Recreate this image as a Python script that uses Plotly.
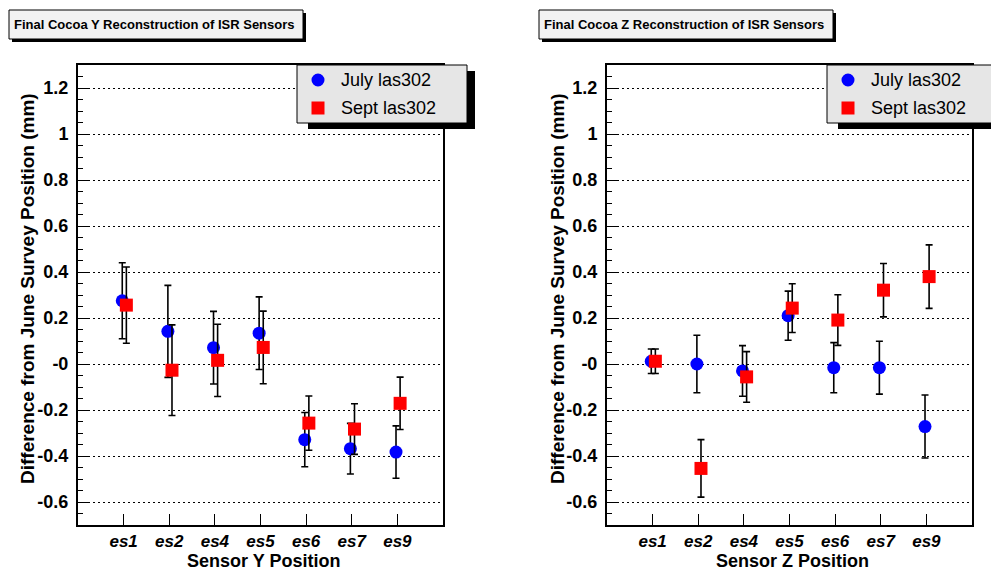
import plotly.graph_objects as go

W, H = 991, 571

categories = ["es1", "es2", "es4", "es5", "es6", "es7", "es9"]

july_y = [0.275, 0.142, 0.071, 0.134, -0.329, -0.368, -0.383]
july_y_err = [0.165, 0.200, 0.158, 0.158, 0.118, 0.110, 0.114]
sept_y = [0.256, -0.027, 0.016, 0.072, -0.257, -0.283, -0.171]
sept_y_err = [0.166, 0.197, 0.157, 0.158, 0.118, 0.110, 0.114]

july_z = [0.012, 0.000, -0.030, 0.210, -0.016, -0.016, -0.272]
july_z_err = [0.053, 0.125, 0.110, 0.107, 0.109, 0.115, 0.137]
sept_z = [0.012, -0.454, -0.056, 0.243, 0.191, 0.321, 0.380]
sept_z_err = [0.053, 0.125, 0.110, 0.106, 0.110, 0.116, 0.138]

ytick_vals = [-0.6, -0.4, -0.2, 0.0, 0.2, 0.4, 0.6, 0.8, 1.0, 1.2]
ytick_text = ["-0.6", "-0.4", "-0.2", "-0", "0.2", "0.4", "0.6", "0.8", "1", "1.2"]

series_labels = ["July las302", "Sept las302"]
panel_titles = ["Final Cocoa Y Reconstruction of ISR Sensors",
                "Final Cocoa Z Reconstruction of ISR Sensors"]
x_titles = ["Sensor Y Position", "Sensor Z Position"]
y_title = "Difference from June Survey Position (mm)"

FONT = "Liberation Sans, Arial, Helvetica, sans-serif"


def X(px):
    return px / W


def Y(py):
    return 1 - py / H


fig = go.Figure()

idx = list(range(len(categories)))
off_blue, off_red = -0.03, 0.06

panels = [
    (july_y, july_y_err, sept_y, sept_y_err, "x", "y"),
    (july_z, july_z_err, sept_z, sept_z_err, "x2", "y2"),
]
for (jv, je, sv, se, xa, ya) in panels:
    fig.add_trace(go.Scatter(
        x=[i + off_blue for i in idx], y=jv, mode="markers", xaxis=xa, yaxis=ya,
        marker=dict(symbol="circle", size=13, color="#0000ff", line=dict(width=0)),
        error_y=dict(type="data", array=je, color="black", thickness=1.6, width=3.5),
        showlegend=False, name=series_labels[0]))
    fig.add_trace(go.Scatter(
        x=[i + off_red for i in idx], y=sv, mode="markers", xaxis=xa, yaxis=ya,
        marker=dict(symbol="square", size=13, color="#ff0000", line=dict(width=0)),
        error_y=dict(type="data", array=se, color="black", thickness=1.6, width=3.5),
        showlegend=False, name=series_labels[1]))

frames = [(78, 443), (607, 972)]
ftop, fbot = 65, 525

common_x = dict(
    range=[-1, 7], tickvals=idx, ticktext=categories, ticks="inside", ticklen=11,
    tickwidth=1, tickcolor="black", showgrid=False, zeroline=False,
    showline=True, linecolor="black", linewidth=2, mirror=True,
    tickfont=dict(family=FONT, size=17, color="black", weight="bold", style="italic"),
)
common_y = dict(
    range=[-0.7, 1.3], tickvals=ytick_vals, ticktext=ytick_text, ticks="inside",
    ticklen=10, tickwidth=1, tickcolor="black",
    showgrid=True, gridcolor="black", griddash="2px,3px", gridwidth=1,
    zeroline=False, showline=True, linecolor="black", linewidth=2, mirror=True,
    tickfont=dict(family=FONT, size=18, color="black", weight="bold"),
    minor=dict(tickmode="linear", tick0=0, dtick=0.05, ticks="inside", ticklen=5,
               tickcolor="black", tickwidth=1, showgrid=False),
    ticklabelstandoff=4,
)

fig.update_layout(
    width=W, height=H, margin=dict(l=0, r=0, t=0, b=0),
    paper_bgcolor="white", plot_bgcolor="white",
    xaxis=dict(common_x, domain=[X(frames[0][0]), X(frames[0][1])], anchor="y"),
    yaxis=dict(common_y, domain=[Y(fbot), Y(ftop)], anchor="x"),
    xaxis2=dict(common_x, domain=[X(frames[1][0]), X(frames[1][1])], anchor="y2"),
    yaxis2=dict(common_y, domain=[Y(fbot), Y(ftop)], anchor="x2"),
    font=dict(family=FONT, color="black"),
)

shapes = []
annotations = []

for p, (fl, fr) in enumerate(frames):
    dx = 0 if p == 0 else 530
    # title box with shadow
    tx0, tx1, ty0, ty1 = 9 + dx, 303 + dx, 10, 39
    shapes.append(dict(type="rect", xref="paper", yref="paper",
                       x0=X(tx0 + 3), x1=X(tx1 + 3), y0=Y(ty0 + 3), y1=Y(ty1 + 3),
                       fillcolor="black", line=dict(width=0), layer="above"))
    shapes.append(dict(type="rect", xref="paper", yref="paper",
                       x0=X(tx0), x1=X(tx1), y0=Y(ty0), y1=Y(ty1),
                       fillcolor="#f2f2f2", line=dict(color="black", width=1), layer="above"))
    annotations.append(dict(text=panel_titles[p], xref="paper", yref="paper",
                            x=X(tx0 + 3), y=Y((ty0 + ty1) / 2), xanchor="left", yanchor="middle",
                            showarrow=False,
                            font=dict(family=FONT, size=13, color="black", weight="bold")))
    # legend box with shadow
    lx0, lx1, ly0, ly1 = 297 + dx, 467 + dx, 65, 123
    shapes.append(dict(type="rect", xref="paper", yref="paper",
                       x0=X(lx0 + 11), x1=X(lx1 + 8), y0=Y(ly0 + 6), y1=Y(ly1 + 6),
                       fillcolor="black", line=dict(width=0), layer="above"))
    shapes.append(dict(type="rect", xref="paper", yref="paper",
                       x0=X(lx0), x1=X(lx1), y0=Y(ly0), y1=Y(ly1),
                       fillcolor="#e6e6e6", line=dict(color="black", width=1), layer="above"))
    mx = lx0 + 21
    r = 6.5
    shapes.append(dict(type="circle", xref="paper", yref="paper",
                       x0=X(mx - r), x1=X(mx + r), y0=Y(80 - r), y1=Y(80 + r),
                       fillcolor="#0000ff", line=dict(width=0), layer="above"))
    shapes.append(dict(type="rect", xref="paper", yref="paper",
                       x0=X(mx - r), x1=X(mx + r), y0=Y(108 - r), y1=Y(108 + r),
                       fillcolor="#ff0000", line=dict(width=0), layer="above"))
    for k, yy in enumerate([80, 108]):
        annotations.append(dict(text=series_labels[k], xref="paper", yref="paper",
                                x=X(lx0 + 42), y=Y(yy), xanchor="left", yanchor="middle",
                                showarrow=False,
                                font=dict(family=FONT, size=18, color="black")))
    # axis titles
    annotations.append(dict(text=x_titles[p], xref="paper", yref="paper",
                            x=X((fl + fr) / 2 + 3), y=Y(561), xanchor="center", yanchor="middle",
                            showarrow=False,
                            font=dict(family=FONT, size=18, color="black", weight="bold")))
    annotations.append(dict(text=y_title, xref="paper", yref="paper",
                            x=X(27 + dx), y=Y(289), xanchor="center", yanchor="middle",
                            textangle=-90, showarrow=False,
                            font=dict(family=FONT, size=19, color="black", weight="bold")))

fig.update_layout(shapes=shapes, annotations=annotations)

fig.write_html("out.html")
